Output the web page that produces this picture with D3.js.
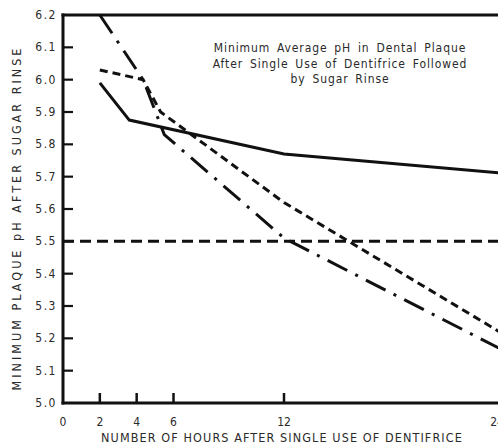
<!DOCTYPE html>
<html>
<head>
<meta charset="utf-8">
<script src="https://cdn.jsdelivr.net/npm/d3@7"></script>
<style>
  html, body { margin: 0; padding: 0; background: #fff; overflow: hidden; }
  svg { display: block; }
  text { font-family: "Liberation Sans Narrow", "DejaVu Sans Condensed", "Liberation Sans", sans-serif; fill: #2a2a2a; }
</style>
</head>
<body>
<script>
// Hours after dentifrice use and the minimum plaque pH for each product
const hoursSolid = [2, 3.6, 12, 24];
const phSolid = [5.99, 5.875, 5.77, 5.71];

const hoursDashed = [2, 4.35, 5.3, 12, 24];
const phDashed = [6.03, 6.0, 5.9, 5.62, 5.21];

const hoursDashDot = [2, 4.35, 5.5, 12, 24];
const phDashDot = [6.2, 6.0, 5.83, 5.51, 5.16];

// Critical pH reference line
const criticalPh = 5.5;

const xTicks = [0, 2, 4, 6, 12, 24];
const xTickMarks = [2, 4, 6, 12, 24];
const yTicks = [5.0, 5.1, 5.2, 5.3, 5.4, 5.5, 5.6, 5.7, 5.8, 5.9, 6.0, 6.1, 6.2];

const titleLines = [
  "Minimum Average pH in Dental Plaque",
  "After Single Use of Dentifrice Followed",
  "by Sugar Rinse"
];
const xTitle = "NUMBER OF HOURS AFTER SINGLE USE OF DENTIFRICE";
const yTitle = "MINIMUM PLAQUE pH AFTER SUGAR RINSE";

const W = 498, H = 447;
const svg = d3.select("body").append("svg").attr("width", W).attr("height", H);

const x = d3.scaleLinear().domain([0, 24]).range([63, 505]);
const y = d3.scaleLinear().domain([5.0, 6.2]).range([403, 15]);

// frame: left axis, bottom axis, top border
const frame = svg.append("g").attr("stroke", "#111").attr("stroke-width", 3).attr("fill", "none");
frame.append("line").attr("x1", x(0)).attr("x2", x(0)).attr("y1", y(6.2) - 1.5).attr("y2", y(5.0) + 1.5);
frame.append("line").attr("x1", x(0) - 1.5).attr("x2", W + 10).attr("y1", y(5.0)).attr("y2", y(5.0));
frame.append("line").attr("x1", x(0) - 1.5).attr("x2", W + 10).attr("y1", y(6.2)).attr("y2", y(6.2));

// y ticks point inward
svg.append("g").selectAll("line").data(yTicks.slice(1, -1)).join("line")
  .attr("x1", x(0)).attr("x2", x(0) + 10)
  .attr("y1", d => y(d)).attr("y2", d => y(d))
  .attr("stroke", "#111").attr("stroke-width", 2.2);

svg.append("g").selectAll("text").data(yTicks).join("text")
  .attr("x", 57).attr("y", d => y(d) + 4)
  .attr("text-anchor", "end")
  .attr("font-size", 12)
  .attr("letter-spacing", 1.5)
  .attr("fill", "#3a3a3a")
  .text(d => d3.format(".1f")(d));

// x ticks point upward
svg.append("g").selectAll("line").data(xTickMarks).join("line")
  .attr("x1", d => x(d)).attr("x2", d => x(d))
  .attr("y1", y(5.0)).attr("y2", y(5.0) - 10)
  .attr("stroke", "#111").attr("stroke-width", 2.5);

// the last label sits at the right edge of the page
svg.append("g").selectAll("text").data(xTicks).join("text")
  .attr("x", d => Math.min(x(d), 497)).attr("y", 426)
  .attr("text-anchor", "middle")
  .attr("font-size", 12)
  .text(d => d);

svg.append("text")
  .attr("x", 282).attr("y", 442)
  .attr("text-anchor", "middle")
  .attr("font-size", 12.5)
  .attr("letter-spacing", 1.1)
  .text(xTitle);

svg.append("text")
  .attr("transform", "translate(21,218) rotate(-90)")
  .attr("text-anchor", "middle")
  .attr("font-size", 12.5)
  .attr("letter-spacing", 3)
  .text(yTitle);

// title block
svg.append("g").selectAll("text").data(titleLines).join("text")
  .attr("x", 340).attr("y", (d, i) => 52 + i * 15.5)
  .attr("text-anchor", "middle")
  .attr("font-size", 12)
  .attr("letter-spacing", 0.9)
  .attr("word-spacing", 2.5)
  .text(d => d);

const line = d3.line().x(d => x(d[0])).y(d => y(d[1]));
const plot = svg.append("g").attr("fill", "none").attr("stroke", "#111").attr("stroke-width", 3);

plot.append("line")
  .attr("x1", x(0)).attr("x2", W + 10)
  .attr("y1", y(criticalPh)).attr("y2", y(criticalPh))
  .attr("stroke-dasharray", "11,6");

plot.append("path")
  .datum(d3.zip(hoursSolid, phSolid))
  .attr("d", line);

plot.append("path")
  .datum(d3.zip(hoursDashed, phDashed))
  .attr("stroke-dasharray", "8,5")
  .attr("d", line);

plot.append("path")
  .datum(d3.zip(hoursDashDot, phDashDot))
  .attr("stroke-dasharray", "22,9,3,9")
  .attr("d", line);
</script>
</body>
</html>
